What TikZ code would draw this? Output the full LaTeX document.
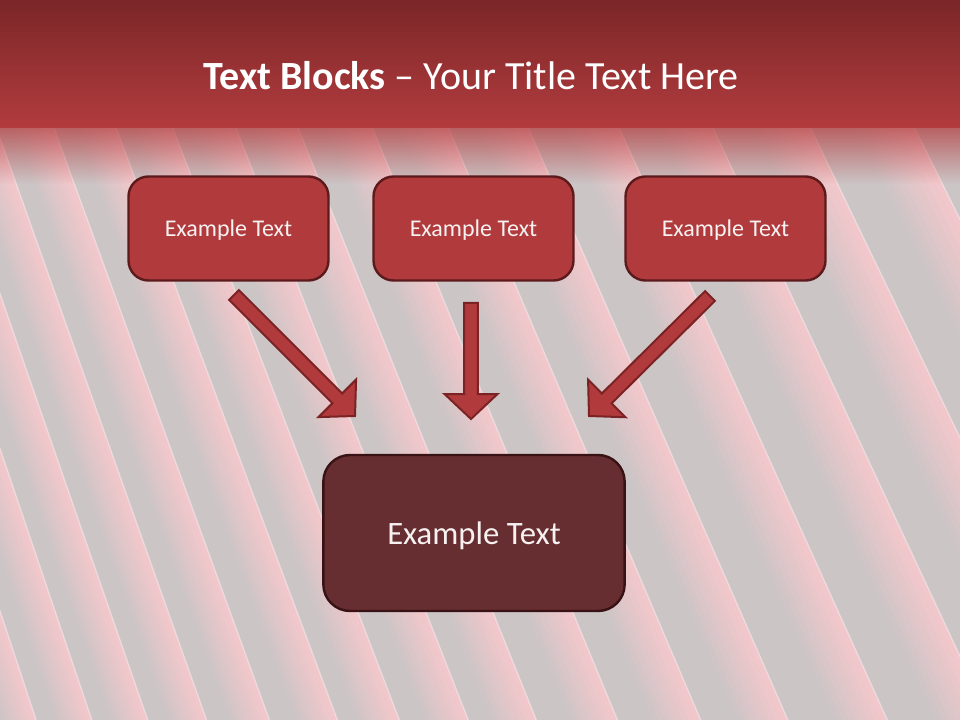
\documentclass[tikz,border=0pt]{standalone}
\usepackage{fontspec}
\setmainfont{Carlito}
\usetikzlibrary{calc,fadings}

\definecolor{headTop}{RGB}{123,38,40}
\definecolor{headBottom}{RGB}{178,60,62}
\definecolor{slideGray}{RGB}{204,197,198}
\definecolor{stripePink}{RGB}{255,200,205}
\definecolor{stripeLine}{RGB}{240,228,229}
\definecolor{blockRed}{RGB}{176,58,60}
\definecolor{blockEdge}{RGB}{92,26,28}
\definecolor{arrowEdge}{RGB}{122,34,36}
\definecolor{resultBrown}{RGB}{102,46,48}
\definecolor{resultEdge}{RGB}{56,18,20}
\definecolor{textWhite}{RGB}{247,241,241}

\tikzfading[name=fadeDown, top color=transparent!28, bottom color=transparent!100]

\tikzset{
  textBlock/.style={draw=blockEdge, line width=1.8pt, fill=blockRed,
    rounded corners=15pt, minimum width=150pt, minimum height=78pt,
    inner sep=0pt, text depth=0pt, text=textWhite, font=\fontsize{18}{22}\selectfont},
  resultBlock/.style={draw=resultEdge, line width=1.8pt, fill=resultBrown,
    rounded corners=20pt, minimum width=226pt, minimum height=117pt,
    inner sep=0pt, text depth=0pt, text=textWhite, font=\fontsize{24.5}{29}\selectfont},
  arrowBody/.style={fill=blockRed, draw=arrowEdge, line width=1.5pt, line join=miter},
}

\begin{document}
\begin{tikzpicture}[x=0.75pt,y=-0.75pt]

  % USER SETTINGS
  \def\hw{5.2pt}   % half width of shaft
  \def\hh{19.9pt}  % half width of head
  \def\hl{18.75pt} % head length
  \def\yh{128}     % lower edge of title band

  % HELP FUNCTION
  \def\blockArrow(#1,#2){ % tail, tip
    \coordinate (#1base) at ($(#2)!\hl!(#1)$);
    \filldraw[arrowBody]
      ($(#1)!\hw!90:(#2)$) -- ($(#1base)!\hw!-90:(#1)$)
      -- ($(#1base)!\hh!-90:(#1)$) -- (#2)
      -- ($(#1base)!\hh!90:(#1)$) -- ($(#1base)!\hw!90:(#1)$)
      -- ($(#1)!\hw!-90:(#2)$) -- cycle;
  }

  \useasboundingbox (0,0) rectangle (960,720);

  % BACKGROUND
  \fill[slideGray] (0,0) rectangle (960,720);
  \begin{scope}
    \clip (0,\yh) rectangle (960,720);
    \foreach \xb in {-217,-162,-107,-52,3,58,113,171,233,300,361,429,496,576,658,744,842,943,1048,1160}{
      \pgfmathsetmacro\s{0.33+0.14*(\xb/960)}
      \pgfmathsetmacro\xt{\xb+\s*(\yh-620)}
      \pgfmathsetmacro\xd{\xb+\s*100}
      \pgfmathsetmacro\w{30+28*((\xb+217)/1377)}
      \foreach \k in {1,...,8}{
        \pgfmathsetmacro\a{-\w*(9-\k)/8}
        \pgfmathsetmacro\b{-\w*(8-\k)/8}
        \fill[stripePink, opacity=0.095*\k]
          ({\xt+\a},\yh) -- ({\xt+\b},\yh) -- ({\xd+\b},720) -- ({\xd+\a},720) -- cycle;
      }
      \draw[stripeLine, line width=1pt, opacity=0.7] (\xt,\yh) -- (\xd,720); % sharp edge
    }
  \end{scope}

  % TITLE BAND
  \fill[headBottom, path fading=fadeDown] (0,\yh) rectangle (960,184);
  \shade[top color=headTop, bottom color=headBottom] (0,0) rectangle (960,\yh);
  \node[text=white, font=\fontsize{30}{36}\selectfont] (title) at (471,76)
    {\textbf{Text Blocks} – Your Title Text Here};

  % BLOCKS
  \node[textBlock] (blockA) at (228.5,228.5) {Example Text};
  \node[textBlock] (blockB) at (473.5,228.5) {Example Text};
  \node[textBlock] (blockC) at (725.5,228.5) {Example Text};
  \node[resultBlock] (result) at (474,533) {Example Text};

  % ARROWS
  \coordinate (tailA) at (234,295);  \coordinate (tipA) at (355,416);
  \coordinate (tailB) at (471,303);  \coordinate (tipB) at (471,419);
  \coordinate (tailC) at (710,296);  \coordinate (tipC) at (589,416);
  \blockArrow(tailA,tipA)
  \blockArrow(tailB,tipB)
  \blockArrow(tailC,tipC)

\end{tikzpicture}
\end{document}
